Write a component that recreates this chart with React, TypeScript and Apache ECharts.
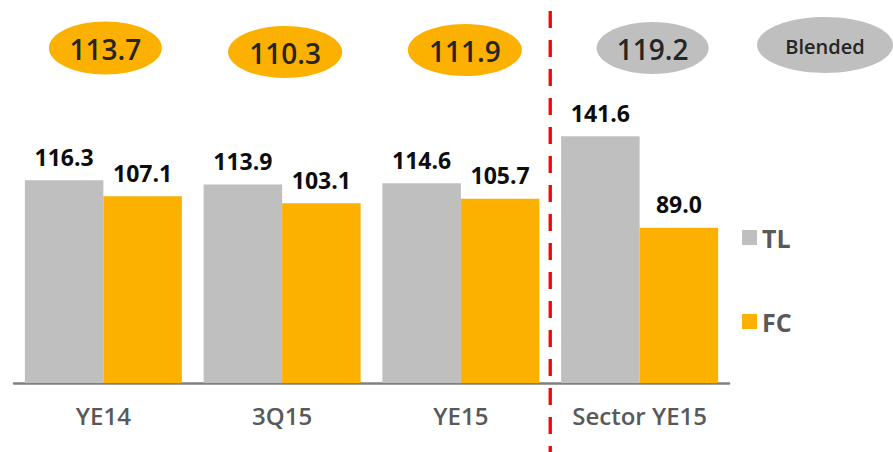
import React, { useEffect, useRef } from "react";
import * as echarts from "echarts";

const categories = ["YE14", "3Q15", "YE15", "Sector YE15"];
const tlValues = [116.3, 113.9, 114.6, 141.6];
const fcValues = [107.1, 103.1, 105.7, 89.0];
const blendedValues = ["113.7", "110.3", "111.9", "119.2"];
const blendedLabel = "Blended";

const GRAY = "#BFBFBF";
const ORANGE = "#FCB000";
const FONT = "'Open Sans', 'Noto Sans', sans-serif";

export default function App() {
  const ref = useRef<HTMLDivElement>(null);

  useEffect(() => {
    if (!ref.current) return;
    const chart = echarts.init(ref.current, undefined, { renderer: "svg" });
    const labelStyle = {
      show: true,
      position: "top" as const,
      distance: 12,
      fontFamily: FONT,
      fontSize: 23,
      fontWeight: "bold" as const,
      color: "#0D0D0D",
      formatter: (p: any) => Number(p.value).toFixed(1),
    };
    chart.setOption({
      animation: false,
      grid: { left: 14, right: 164, top: 34.4, bottom: 69, containLabel: false },
      legend: {
        orient: "vertical",
        left: 737,
        top: 220,
        itemWidth: 15,
        itemHeight: 15,
        itemGap: 59,
        icon: "rect",
        textStyle: {
          fontFamily: FONT,
          fontSize: 25,
          fontWeight: "bold",
          color: "#595959",
          lineHeight: 25,
        },
        data: ["TL", "FC"],
      },
      xAxis: {
        type: "category",
        data: categories,
        axisLine: { show: true, lineStyle: { color: "#808080", width: 2.5 } },
        axisTick: { show: false },
        axisLabel: {
          margin: 20,
          fontFamily: FONT,
          fontSize: 24,
          fontWeight: 600,
          color: "#595959",
        },
      },
      yAxis: {
        type: "value",
        min: 0,
        max: 200,
        show: false,
        splitLine: { show: false },
      },
      series: [
        {
          name: "TL",
          type: "bar",
          data: tlValues,
          barWidth: 78.5,
          barGap: "0%",
          itemStyle: { color: GRAY },
          label: labelStyle,
        },
        {
          name: "FC",
          type: "bar",
          data: fcValues,
          barWidth: 78.5,
          barGap: "0%",
          itemStyle: { color: ORANGE },
          label: labelStyle,
        },
      ],
    });

    const px = categories.map((c) => chart.convertToPixel({ xAxisIndex: 0 }, c) as number);
    const sepX = (px[2] + px[3]) / 2;
    const ellipseCenters = [
      { x: px[0] + 2, y: 48, rx: 56.5, ry: 26.5 },
      { x: px[1] + 3, y: 52, rx: 57, ry: 26 },
      { x: px[2] + 4, y: 50, rx: 57, ry: 26 },
      { x: px[3] + 13, y: 48, rx: 56, ry: 26 },
    ];
    const graphics: any[] = [];
    blendedValues.forEach((v, i) => {
      const e = ellipseCenters[i];
      graphics.push({
        type: "ellipse",
        shape: { cx: e.x, cy: e.y, rx: e.rx, ry: e.ry },
        style: { fill: i < 3 ? ORANGE : GRAY },
        silent: true,
      });
      graphics.push({
        type: "text",
        x: e.x,
        y: e.y + 1,
        style: {
          text: v,
          fontFamily: FONT,
          fontSize: 28,
          fontWeight: 600,
          fill: "#262626",
          align: "center",
          verticalAlign: "middle",
        },
        silent: true,
      });
    });
    graphics.push({
      type: "ellipse",
      shape: { cx: 825, cy: 45, rx: 68, ry: 28 },
      style: { fill: GRAY },
      silent: true,
    });
    graphics.push({
      type: "text",
      x: 825,
      y: 46,
      style: {
        text: blendedLabel,
        fontFamily: FONT,
        fontSize: 20,
        fontWeight: 600,
        fill: "#262626",
        align: "center",
        verticalAlign: "middle",
      },
      silent: true,
    });
    graphics.push({
      type: "line",
      shape: { x1: sepX, y1: 11, x2: sepX, y2: 452 },
      style: { stroke: "#FF0000", lineWidth: 3.3, lineDash: [17, 12] },
      silent: true,
      z: 10,
    });
    chart.setOption({ graphic: graphics });

    return () => chart.dispose();
  }, []);

  return (
    <div
      ref={ref}
      style={{ position: "fixed", left: 0, top: 0, width: 893, height: 452, background: "#fff" }}
    />
  );
}
